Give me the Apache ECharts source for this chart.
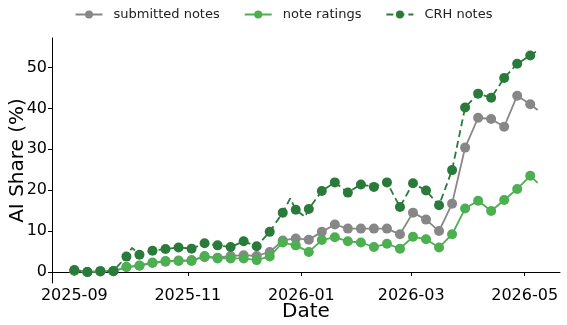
<!DOCTYPE html>
<html>
<head>
<meta charset="utf-8">
<script src="https://cdn.jsdelivr.net/npm/echarts@6/dist/echarts.min.js"></script>
<style>
html,body{margin:0;padding:0;background:#fff;}
#chart{width:567px;height:325px;}
</style>
</head>
<body>
<div id="chart"></div>
<script>
// weekly observation dates (markers) plus final line end point
const dates = ['2025-09-01','2025-09-08','2025-09-15','2025-09-22','2025-09-29','2025-10-06','2025-10-13','2025-10-20','2025-10-27',
  '2025-11-03','2025-11-10','2025-11-17','2025-11-24','2025-12-01','2025-12-08','2025-12-15','2025-12-22','2025-12-29',
  '2026-01-05','2026-01-12','2026-01-19','2026-01-26','2026-02-02','2026-02-09','2026-02-16','2026-02-23','2026-03-02',
  '2026-03-09','2026-03-16','2026-03-23','2026-03-30','2026-04-06','2026-04-13','2026-04-20','2026-04-27','2026-05-04','2026-05-08'];
const submittedNotes = [0.3,0,0.1,0.2,1.2,1.5,2.2,2.5,2.8,2.9,3.6,3.5,3.9,4.1,3.9,4.9,7.7,8.2,7.9,9.8,11.6,10.6,10.6,10.6,10.6,9.2,14.5,12.8,10.0,16.7,30.4,37.7,37.4,35.5,43.1,41.0,39.6];
const noteRatings = [0.3,0,0.2,0.2,1.2,1.6,2.3,2.7,2.7,2.7,3.9,3.3,3.3,3.3,2.9,3.8,7.2,6.5,4.9,7.8,8.5,7.5,7.2,6.1,6.9,5.7,8.6,8.0,6.0,9.2,15.5,17.4,14.9,17.6,20.3,23.5,21.8];
const crhNotes = [0.5,0,0.2,0.25,3.75,4.2,5.2,5.6,6.0,5.7,7.0,6.5,6.1,7.5,6.3,9.8,14.5,15.2,15.4,19.8,21.9,19.4,21.4,20.8,21.9,15.9,21.7,19.9,16.3,24.9,40.2,43.6,42.6,47.4,50.9,52.9,54.1];
// between-marker readings of the CRH line (no marker drawn)
const crhExtraDates = ['2025-10-02','2025-12-26','2026-01-03'];
const crhExtraValues = [5.9,18.0,13.5];
const xTicks = ['2025-09-01','2025-11-01','2026-01-01','2026-03-01','2026-05-01'];
const yTicks = [0,10,20,30,40,50];
const seriesNames = ['submitted notes','note ratings','CRH notes'];
const colors = ['#878787','#4caf50','#2a7a3b'];

function ts(s){const p=s.split('-').map(Number);return new Date(p[0],p[1]-1,p[2]).getTime();}
const nMarkers = 36;
function build(vals,exD,exV){
  const items = vals.map((v,i)=>{
    const item={value:[ts(dates[i]),v]};
    if(i>=nMarkers){item.symbol='none';}
    return item;
  });
  (exD||[]).forEach((d,j)=>items.push({value:[ts(d),exV[j]],symbol:'none'}));
  items.sort((a,b)=>a.value[0]-b.value[0]);
  return items;
}
const chart = echarts.init(document.getElementById('chart'),null,{renderer:'canvas'});
const font = 'DejaVu Sans';
const seriesData=[build(submittedNotes),build(noteRatings),build(crhNotes,crhExtraDates,crhExtraValues)];
chart.setOption({
  animation:false,
  backgroundColor:'#fff',
  textStyle:{fontFamily:font},
  legend:{
    top:3,left:'center',itemWidth:27,itemHeight:10,itemGap:24,
    textStyle:{fontFamily:font,fontSize:13,color:'#222',padding:[0,0,0,6]},
    data:seriesNames
  },
  grid:{left:52,right:7,top:38,bottom:42,containLabel:false,outerBoundsMode:'none'},
  xAxis:{
    type:'value',
    min:ts('2025-08-20'),max:ts('2026-05-20'),
    name:'Date',nameLocation:'middle',nameGap:19,nameMoveOverlap:false,
    nameTextStyle:{fontFamily:font,fontSize:20,color:'#000',verticalAlign:'top'},
    axisLine:{lineStyle:{color:'#000',width:1}},
    axisTick:{show:true,length:4,lineStyle:{color:'#000'},customValues:xTicks.map(ts)},
    axisLabel:{color:'#000',fontSize:16,fontFamily:font,margin:5,customValues:xTicks.map(ts),
      formatter:function(v){const d=new Date(v);return d.getFullYear()+'-'+String(d.getMonth()+1).padStart(2,'0');}},
    splitLine:{show:false}
  },
  yAxis:{
    type:'value',min:-2.7,max:57.2,
    name:'AI Share (%)',nameLocation:'middle',nameGap:24,nameMoveOverlap:false,
    nameTextStyle:{fontFamily:font,fontSize:20,color:'#000'},
    axisLine:{show:true,lineStyle:{color:'#000',width:1}},
    axisTick:{show:true,length:4,lineStyle:{color:'#000'},customValues:yTicks},
    axisLabel:{color:'#000',fontSize:16,fontFamily:font,margin:5,customValues:yTicks},
    splitLine:{show:false}
  },
  series:seriesNames.map((n,k)=>({
    name:n,type:'line',data:seriesData[k],
    symbol:'circle',symbolSize:10,showSymbol:true,
    lineStyle:{color:colors[k],width:1.8,type:k===2?[7,4]:'solid'},
    itemStyle:{color:colors[k]},
    z:2+k
  }))
});
</script>
</body>
</html>
